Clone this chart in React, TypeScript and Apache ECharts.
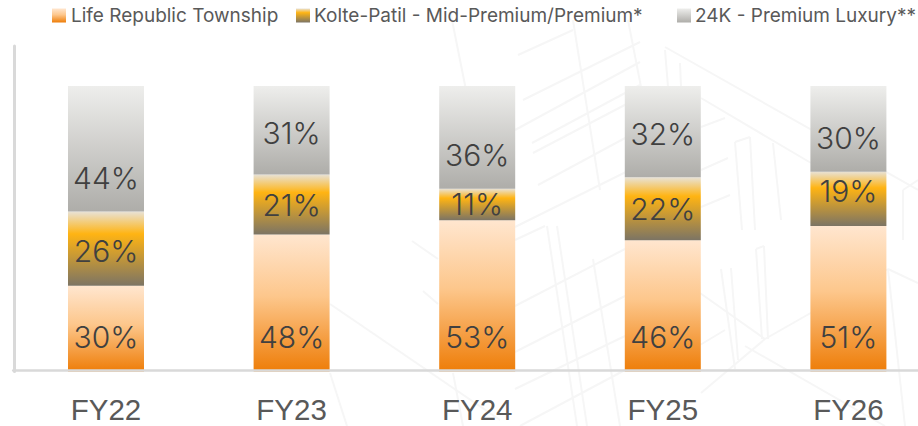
import React, { useEffect, useRef } from "react";
import * as echarts from "echarts";

const categories = ["FY22", "FY23", "FY24", "FY25", "FY26"];
const lifeRepublic = [30, 48, 53, 46, 51];
const koltePatil = [26, 21, 11, 22, 19];
const premiumLuxury = [44, 31, 36, 32, 30];
const seriesNames = ["Life Republic Township", "Kolte-Patil - Mid-Premium/Premium*", "24K - Premium Luxury**"];
const legendLefts = [52, 296, 677];

// manual data-label nudges seen in the reference (px down from the bar segment's centre)
const lifeLabelNudge = [8, 34, 41, 31, 38];
const kolteLabelNudge = [2, 1, 0, 0, -8];
const luxuryLabelNudge = [29, 3, 18, 2, 9];

// faint architectural drawing behind the chart
const backdrop: number[][] = [
  [450, 10, 466, 90], [573, 20, 600, 190], [518, 55, 573, 30], [523, 100, 640, 42], [515, 130, 640, 62],
  [532, 143, 640, 85], [533, 153, 640, 97], [538, 185, 640, 130], [515, 227, 640, 165], [628, 20, 641, 87],
  [665, 47, 918, 190], [701, 98, 811, 163], [665, 50, 668, 87], [680, 63, 681, 87], [701, 127, 725, 118],
  [701, 170, 728, 158], [701, 207, 730, 195], [735, 142, 750, 137], [735, 142, 742, 230], [750, 137, 755, 230],
  [773, 143, 781, 220], [903, 190, 918, 180], [903, 190, 903, 240], [330, 304, 500, 420], [412, 241, 438, 259],
  [423, 291, 438, 304], [515, 306, 625, 249], [515, 352, 625, 296], [515, 389, 625, 336], [547, 226, 577, 426],
  [557, 226, 587, 426], [593, 259, 620, 426], [453, 373, 463, 426], [330, 373, 347, 426], [700, 293, 765, 339],
  [721, 269, 735, 369], [731, 268, 738, 360], [756, 249, 764, 246], [756, 249, 762, 339], [764, 246, 768, 339],
  [765, 339, 888, 269], [888, 269, 918, 283], [701, 393, 765, 339], [745, 346, 885, 426], [888, 269, 905, 426],
  [515, 240, 545, 226], [700, 250, 625, 300], [520, 426, 625, 370], [700, 345, 725, 330],
];

const grad = (stops: [number, string][]) =>
  new echarts.graphic.LinearGradient(0, 0, 0, 1, stops.map(([offset, color]) => ({ offset, color })));

const withNudge = (values: number[], nudges: number[]) =>
  values.map((value, i) => ({ value, label: { offset: [0, nudges[i]] } }));

export default function App() {
  const ref = useRef<HTMLDivElement>(null);
  useEffect(() => {
    const chart = echarts.init(ref.current!, undefined, { renderer: "svg" });
    const labelStyle = {
      show: true,
      position: "inside" as const,
      formatter: "{c}%",
      fontFamily: "Inter",
      fontWeight: 300,
      fontSize: 30,
      color: "#404040",
    };
    const common = { type: "bar" as const, stack: "total", barWidth: 76, label: labelStyle };
    chart.setOption({
      animation: false,
      backgroundColor: "#ffffff",
      graphic: backdrop.map(([x1, y1, x2, y2]) => ({
        type: "line",
        silent: true,
        z: -10,
        shape: { x1, y1, x2, y2 },
        style: { stroke: "#f6f6f6", lineWidth: 2 },
      })),
      legend: seriesNames.map((name, i) => ({
        left: legendLefts[i],
        top: 6,
        padding: 0,
        itemWidth: 14,
        itemHeight: 14,
        selectedMode: false,
        icon: "rect",
        textStyle: { fontFamily: "Inter", fontSize: 19, color: "#595959", padding: [0, 0, 0, i === 0 ? 0 : -1] },
        data: [name],
      })),
      grid: { left: 13.2, width: 928, top: 46, height: 325.5, outerBoundsMode: "none" },
      xAxis: {
        type: "category",
        data: categories,
        z: 5,
        offset: -1.3,
        axisLine: { show: true, lineStyle: { color: "#d9d9d9", width: 2.5 } },
        axisTick: { show: false },
        axisLabel: { color: "#595959", fontFamily: "Liberation Sans", fontSize: 29.5, lineHeight: 30, margin: 24 },
      },
      yAxis: {
        type: "value",
        min: 0,
        max: 114,
        offset: -1.5,
        splitLine: { show: false },
        axisTick: { show: false },
        axisLabel: { show: false },
        axisLine: { show: true, lineStyle: { color: "#d9d9d9", width: 3 } },
      },
      series: [
        {
          ...common,
          name: seriesNames[0],
          data: withNudge(lifeRepublic, lifeLabelNudge),
          itemStyle: {
            color: grad([[0, "#ffe6cf"], [0.45, "#fdc78c"], [1, "#ee7d08"]]),
          },
        },
        {
          ...common,
          name: seriesNames[1],
          data: withNudge(koltePatil, kolteLabelNudge),
          itemStyle: {
            color: grad([[0, "#e8e2d6"], [0.3, "#ffb413"], [1, "#7c7464"]]),
          },
        },
        {
          ...common,
          name: seriesNames[2],
          data: withNudge(premiumLuxury, luxuryLabelNudge),
          itemStyle: {
            color: grad([[0, "#eeeeec"], [1, "#aeada9"]]),
          },
        },
      ],
    });
    return () => chart.dispose();
  }, []);
  return <div ref={ref} style={{ position: "absolute", left: 0, top: 0, width: 918, height: 426 }} />;
}
